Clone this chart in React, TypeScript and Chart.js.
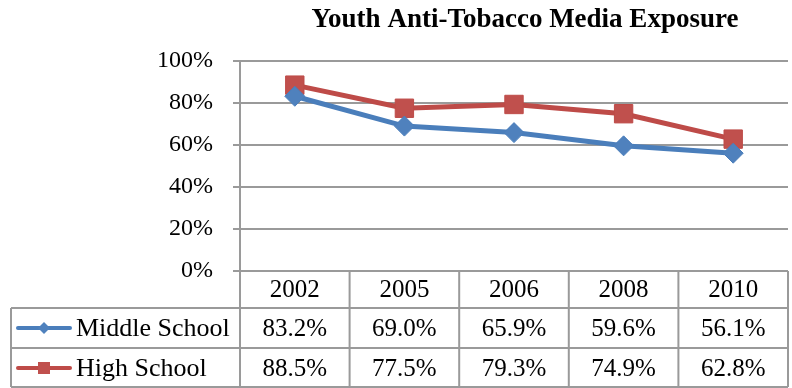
import React, { useEffect, useRef } from "react";
import { Chart, registerables } from "chart.js";

Chart.register(...registerables);

const title = "Youth Anti-Tobacco Media Exposure";
const years = ["2002", "2005", "2006", "2008", "2010"];
const middleSchool = [83.2, 69.0, 65.9, 59.6, 56.1];
const highSchool = [88.5, 77.5, 79.3, 74.9, 62.8];
const yTicks = [0, 20, 40, 60, 80, 100];

const FONT = '"Liberation Serif", "Times New Roman", serif';
const GRID = "#9a9a9a";
const BLUE_LINE = "#4A7EBB";
const BLUE_FILL = "#4F81BD";
const RED_LINE = "#BE4B48";
const RED_FILL = "#C0504D";

const seriesRows = [
  { name: "Middle School", values: middleSchool, line: BLUE_LINE, fill: BLUE_FILL, marker: "diamond" },
  { name: "High School", values: highSchool, line: RED_LINE, fill: RED_FILL, marker: "square" },
];

// Title plus an Excel-style data table under the plot area.
const tablePlugin = {
  id: "dataTable",
  afterDraw(chart: any) {
    const ctx = chart.ctx as CanvasRenderingContext2D;
    const area = chart.chartArea;
    const xs = chart.scales.x;
    const n = years.length;
    const colW = (area.right - area.left) / n;
    const tableLeft = 11;
    const top = area.bottom;
    const headerBottom = top + 37;
    const rowH = 40;
    const bottom = headerBottom + rowH * seriesRows.length - 1;

    ctx.save();
    // title
    ctx.fillStyle = "#000";
    ctx.font = `bold 27px ${FONT}`;
    ctx.textAlign = "center";
    ctx.textBaseline = "middle";
    ctx.fillText(title, 525, 20);

    // grid lines of the table
    ctx.strokeStyle = GRID;
    ctx.lineWidth = 2;
    ctx.beginPath();
    for (let r = 1; r <= seriesRows.length; r++) {
      const y = headerBottom + rowH * (r - 1);
      ctx.moveTo(tableLeft, y);
      ctx.lineTo(area.right, y);
    }
    ctx.moveTo(tableLeft, bottom);
    ctx.lineTo(area.right, bottom);
    ctx.moveTo(tableLeft, headerBottom);
    ctx.lineTo(tableLeft, bottom);
    ctx.moveTo(area.left, top);
    ctx.lineTo(area.left, bottom);
    for (let i = 1; i <= n; i++) {
      const x = area.left + colW * i;
      ctx.moveTo(x, top);
      ctx.lineTo(x, bottom);
    }
    ctx.stroke();

    // header row: categories
    ctx.fillStyle = "#000";
    ctx.font = `25px ${FONT}`;
    ctx.textAlign = "center";
    years.forEach((yr, i) => {
      ctx.fillText(yr, xs.getPixelForValue(i), (top + headerBottom) / 2 + 1);
    });

    // series rows with legend keys
    seriesRows.forEach((s, r) => {
      const yMid = headerBottom + rowH * r + rowH / 2;
      // key line
      ctx.strokeStyle = s.line;
      ctx.lineWidth = 4;
      ctx.lineCap = "round";
      ctx.beginPath();
      ctx.moveTo(18, yMid);
      ctx.lineTo(70, yMid);
      ctx.stroke();
      ctx.fillStyle = s.fill;
      ctx.beginPath();
      if (s.marker === "diamond") {
        ctx.moveTo(44, yMid - 6);
        ctx.lineTo(50, yMid);
        ctx.lineTo(44, yMid + 6);
        ctx.lineTo(38, yMid);
        ctx.closePath();
      } else {
        ctx.rect(38, yMid - 6, 12, 12);
      }
      ctx.fill();

      ctx.fillStyle = "#000";
      ctx.font = `26px ${FONT}`;
      ctx.textAlign = "left";
      ctx.fillText(s.name, 76, yMid + 1);
      ctx.font = `25px ${FONT}`;
      ctx.textAlign = "center";
      s.values.forEach((v, i) => {
        ctx.fillText(v.toFixed(1) + "%", xs.getPixelForValue(i), yMid + 1);
      });
    });
    ctx.restore();
  },
};

export default function App() {
  const ref = useRef<HTMLCanvasElement | null>(null);

  useEffect(() => {
    document.body.style.margin = "0";
    const canvas = ref.current;
    if (!canvas) return;
    const chart = new Chart(canvas, {
      type: "line",
      data: {
        labels: years,
        datasets: [
          {
            label: "Middle School",
            data: middleSchool,
            borderColor: BLUE_LINE,
            backgroundColor: BLUE_FILL,
            borderWidth: 5,
            pointStyle: "rectRot",
            pointRadius: 10,
            pointBackgroundColor: BLUE_FILL,
            pointBorderColor: BLUE_LINE,
            pointBorderWidth: 1,
            tension: 0,
          },
          {
            label: "High School",
            data: highSchool,
            borderColor: RED_LINE,
            backgroundColor: RED_FILL,
            borderWidth: 5,
            pointStyle: "rect",
            pointRadius: 13,
            pointBackgroundColor: RED_FILL,
            pointBorderColor: RED_LINE,
            pointBorderWidth: 1,
            tension: 0,
          },
        ],
      },
      options: {
        animation: false,
        responsive: false,
        devicePixelRatio: 1,
        layout: { autoPadding: false, padding: { left: 0, top: 61, right: 4, bottom: 117 } },
        plugins: { legend: { display: false }, title: { display: false }, tooltip: { enabled: false } },
        scales: {
          x: {
            type: "category",
            display: false,
            offset: true,
          },
          y: {
            min: 0,
            max: 100,
            afterFit: (s: any) => {
              s.width = 240;
            },
            afterBuildTicks: (s: any) => {
              s.ticks = yTicks.map((v) => ({ value: v }));
            },
            ticks: {
              color: "#000",
              font: { family: FONT, size: 24 },
              padding: 20,
              callback: (v: any) => `${v}%`,
            },
            grid: { color: GRID, lineWidth: 2, tickLength: 7, drawTicks: true },
            border: { color: GRID, width: 2 },
          },
        },
      },
      plugins: [tablePlugin],
    });
    return () => chart.destroy();
  }, []);

  return <canvas ref={ref} width={792} height={388} style={{ display: "block" }} />;
}
